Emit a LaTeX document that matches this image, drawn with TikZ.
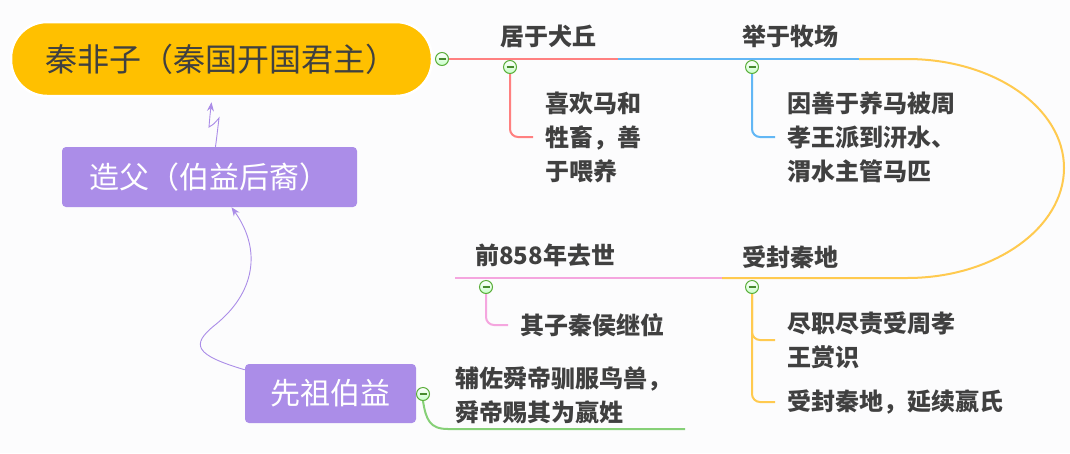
\documentclass[tikz,border=0pt]{standalone}
\usepackage{fontspec}
\setmainfont{Noto Sans CJK SC}
\usepackage{xcolor}
\usepackage{tikz}
\usetikzlibrary{arrows.meta,positioning,calc}

\definecolor{paper}{HTML}{FCFCFD}
\definecolor{qinyellow}{HTML}{FFC000}
\definecolor{ink}{HTML}{404040}
\definecolor{lilac}{HTML}{AB8DE8}
\definecolor{redline}{HTML}{FF8080}
\definecolor{blueline}{HTML}{62B7F5}
\definecolor{goldline}{HTML}{FFCA4F}
\definecolor{pinkline}{HTML}{F5A6DF}
\definecolor{greenline}{HTML}{86D077}
\definecolor{foldgreen}{HTML}{5AAE3A}

\begin{document}
\begin{tikzpicture}[x=1pt, y=-1pt,
  topic/.style={rectangle, rounded corners=4pt, fill=lilac, text=white, font=\fontsize{30}{36}\selectfont, inner sep=0pt},
  branch/.style={anchor=west, inner sep=0pt, text=ink, font=\bfseries\fontsize{24}{34}\selectfont},
  leaf/.style={anchor=west, inner xsep=12pt, inner ysep=0pt, align=left, text=ink, font=\bfseries\fontsize{24}{34}\selectfont},
  fold/.style={circle, draw=foldgreen, line width=1pt, minimum size=13pt, inner sep=0pt, top color=white, bottom color=green!22,
    path picture={\draw[foldgreen!80!black, line width=1.2pt] ([xshift=-3.5pt]path picture bounding box.center) -- ([xshift=3.5pt]path picture bounding box.center);}},
  link/.style={line width=2pt},
  arr/.style={-{Stealth[length=9pt, width=7pt]}, lilac, line width=0.9pt}
]
\fill[paper] (0,0) rectangle (1070,453);
\useasboundingbox (0,0) rectangle (1070,453);

\node[rectangle, fill=qinyellow, draw=white, line width=2.5pt, rounded corners=36pt, minimum width=421pt, minimum height=74pt,
  text=ink, font=\fontsize{32}{36}\selectfont] (qin) at (221.5,59) {秦非子（秦国开国君主）};
\node[topic, minimum width=295pt, minimum height=60pt] (zaofu) at (209.5,177) {造父（伯益后裔）};
\node[topic, minimum width=171pt, minimum height=59pt] (boyi) at (330.5,393.5) {先祖伯益};

\draw[arr] ([yshift=-6pt]boyi.north west) .. controls (195,355) and (190,345) .. (215,325)
  .. controls (255,293) and (262,250) .. ($(zaofu.south)+(22,0)$);
\draw[arr] ($(zaofu.north)+(6,0)$) .. controls (217,135) .. (219,118) .. controls (214,124) .. (209,127)
  .. controls (210,115) .. ($(qin.south)+(-10,5)$);

\coordinate (j1) at (618,59);
\coordinate (j2) at (859,59);
\coordinate (j3) at (722,278);
\coordinate (j4) at (455,278);
\coordinate (yend) at (685,429);

\node[fold] (f0) at (442,59) {};
\draw[link, redline] (f0.east) -- (j1);
\draw[link, blueline] (j1) -- (j2);
\draw[link, goldline] (j2) -- (907,59) .. controls (994,59) and (1064,108) .. (1064,168)
  .. controls (1064,228) and (994,278) .. (907,278) -- (j3);
\draw[link, pinkline] (j3) -- (j4);

\node[branch] (quanqiu) at (500,36) {居于犬丘};
\node[branch] (muchang) at (742,36) {举于牧场};
\node[branch] (fengdi) at (742,257) {受封秦地};
\node[branch] (qushi) at (475,255) {前858年去世};

\node[leaf] (weiyang) at (533,137) {喜欢马和\\牲畜，善\\于喂养};
\node[leaf] (guanma) at (775,137) {因善于养马被周\\孝王派到汧水、\\渭水主管马匹};
\node[leaf] (shangshi) at (775,340) {尽职尽责受周孝\\王赏识};
\node[leaf] (yanxu) at (775,402) {受封秦地，延续嬴氏};
\node[leaf] (jiwei) at (508,325) {其子秦侯继位};
\node[leaf] (yingxing) at (443,395) {辅佐舜帝驯服鸟兽，\\舜帝赐其为嬴姓};

\node[fold] (f1) at (510,67) {};
\node[fold] (f2) at (752,67) {};
\node[fold] (f3) at (752,287) {};
\node[fold] (f4) at (486,287) {};
\node[fold] (f5) at (423,394) {};

\draw[link, redline, rounded corners=8pt] (f1.south) |- (weiyang.west);
\draw[link, blueline, rounded corners=8pt] (f2.south) |- (guanma.west);
\draw[link, goldline, rounded corners=8pt] (f3.south) |- (shangshi.west);
\draw[link, goldline, rounded corners=8pt] (f3.south) |- (yanxu.west);
\draw[link, pinkline, rounded corners=8pt] (f4.south) |- (jiwei.west);
\draw[link, greenline] (f5.south) .. controls (426,420) and (430,429) .. (448,429) -- (yend);

\end{tikzpicture}
\end{document}
